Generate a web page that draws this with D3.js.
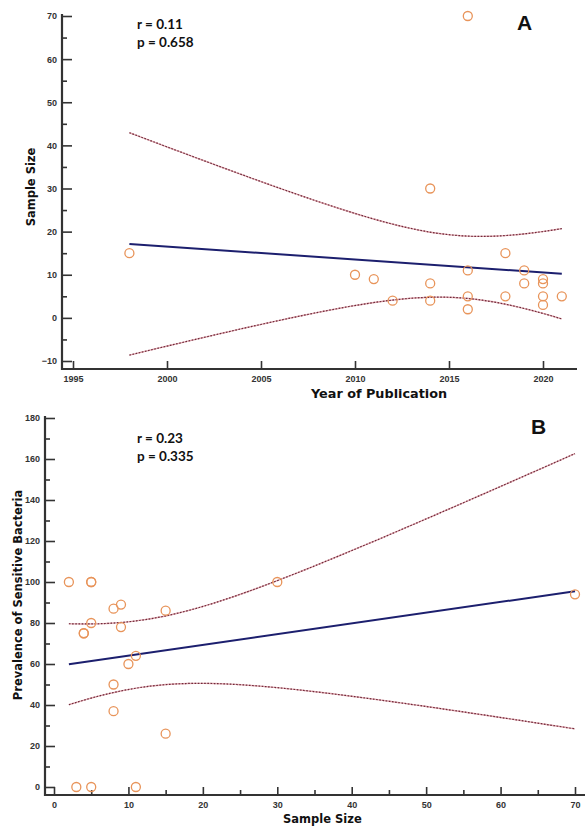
<!DOCTYPE html>
<html>
<head>
<meta charset="UTF-8">
<style>
    body { margin: 0; background: #fff; }
    .tick text { font: bold 9px "Liberation Sans", Arial, sans-serif; fill: #333; }
    .tick line { stroke: #333; stroke-width: 1.6; }
    .ax-line { stroke: #333; stroke-width: 2.2; }
    .ax-title { font-family: "DejaVu Sans", Verdana, sans-serif; font-weight: bold; fill: #111; }
    .stat { font: bold 13.5px Lato, "Open Sans", sans-serif; fill: #111; }
    .panel { font: bold 21px "Liberation Sans", Arial, sans-serif; fill: #111; }
</style>
<title>Regression plots</title>
</head>
<body>
<svg id="chart" width="585" height="831"></svg>

<script src="https://cdn.jsdelivr.net/npm/d3@7"></script>
<script>
// panel A: year of publication vs sample size
const yearA = [1998, 2010, 2011, 2012, 2014, 2014, 2014, 2016, 2016, 2016, 2016, 2018, 2018, 2019, 2019, 2020, 2020, 2020, 2020, 2021];
const sizeA = [15, 10, 9, 4, 30, 8, 4, 70, 11, 5, 2, 15, 5, 11, 8, 9, 8, 5, 3, 5];

// panel B: sample size vs prevalence of sensitive bacteria
const sizeB = [2, 3, 4, 4, 5, 5, 5, 5, 8, 8, 8, 9, 9, 10, 11, 11, 15, 15, 30, 70];
const prevB = [100, 0, 75, 75, 100, 100, 80, 0, 87, 50, 37, 89, 78, 60, 64, 0, 86, 26, 100, 94];

const yearTicks = [1995, 2000, 2005, 2010, 2015, 2020];
const sizeTicksA = [-10, 0, 10, 20, 30, 40, 50, 60, 70];
const sizeMinorA = [-5, 5, 15, 25, 35, 45, 55, 65];
const sizeTicksB = [0, 10, 20, 30, 40, 50, 60, 70];
const sizeMinorB = [5, 15, 25, 35, 45, 55, 65];
const prevTicks = [0, 20, 40, 60, 80, 100, 120, 140, 160, 180];
const prevMinor = [10, 30, 50, 70, 90, 110, 130, 150, 170];

const statsA = ["r = 0.11", "p = 0.658"];
const statsB = ["r = 0.23", "p = 0.335"];

const T_CRIT = 2.101; // t(0.975, df = 18)

const svg = d3.select("#chart");

function regression(xs, ys) {
    const n = xs.length;
    const mx = d3.mean(xs), my = d3.mean(ys);
    let sxx = 0, sxy = 0, syy = 0;
    for (let i = 0; i < n; i++) {
        sxx += (xs[i] - mx) ** 2;
        sxy += (xs[i] - mx) * (ys[i] - my);
        syy += (ys[i] - my) ** 2;
    }
    const b = sxy / sxx, a = my - b * mx;
    const s = Math.sqrt((syy - sxy * sxy / sxx) / (n - 2));
    const band = x => T_CRIT * s * Math.sqrt(1 / n + (x - mx) ** 2 / sxx);
    return { fit: x => a + b * x, band };
}

function drawPanel(cfg) {
    const g = svg.append("g");
    const x = cfg.x, y = cfg.y;
    const yr = y.range();

    // axes with inward ticks
    g.append("g").attr("transform", `translate(${cfg.axX},0)`)
        .call(d3.axisLeft(y).tickValues(cfg.yTicks).tickSize(-10).tickPadding(5));
    g.append("g").attr("transform", `translate(${cfg.axX},0)`)
        .call(d3.axisLeft(y).tickValues(cfg.yMinor).tickSize(-5).tickFormat(""));
    g.append("g").attr("transform", `translate(0,${cfg.axY})`)
        .call(d3.axisBottom(x).tickValues(cfg.xTicks).tickSize(-8).tickPadding(7).tickFormat(d3.format("d")));
    if (cfg.xMinor) {
        g.append("g").attr("transform", `translate(0,${cfg.axY})`)
            .call(d3.axisBottom(x).tickValues(cfg.xMinor).tickSize(-5).tickFormat(""));
    }
    g.selectAll(".domain").remove();

    g.append("line").attr("class", "ax-line")
        .attr("x1", cfg.axX).attr("x2", cfg.axX)
        .attr("y1", yr[1] - 2).attr("y2", cfg.axY + 1);
    g.append("line").attr("class", "ax-line")
        .attr("x1", cfg.axX - 1).attr("x2", cfg.axEnd)
        .attr("y1", cfg.axY).attr("y2", cfg.axY);

    // regression line and 95% confidence band
    const reg = regression(cfg.xs, cfg.ys);
    const [lo, hi] = d3.extent(cfg.xs);
    const grid = d3.range(0, 61).map(i => lo + (hi - lo) * i / 60);
    const line = d3.line().x(d => x(d[0])).y(d => y(d[1])).curve(d3.curveMonotoneX);

    [1, -1].forEach(sign => {
        const pts = grid.map(v => [v, reg.fit(v) + sign * reg.band(v)]);
        g.append("path").attr("d", line(pts))
            .attr("fill", "none").attr("stroke", "#e0a8b0").attr("stroke-width", 1.4);
        g.append("path").attr("d", line(pts))
            .attr("fill", "none").attr("stroke", "#6e2a3a").attr("stroke-width", 1.2)
            .attr("stroke-dasharray", "1.6,1.6");
    });

    g.append("line")
        .attr("x1", x(lo)).attr("y1", y(reg.fit(lo)))
        .attr("x2", x(hi)).attr("y2", y(reg.fit(hi)))
        .attr("stroke", "#1c1f6e").attr("stroke-width", 2);

    g.selectAll("circle.pt").data(cfg.xs.map((v, i) => [v, cfg.ys[i]]))
        .join("circle").attr("class", "pt")
        .attr("cx", d => x(d[0])).attr("cy", d => y(d[1])).attr("r", 4.5)
        .attr("fill", "none").attr("stroke", "#e8945a").attr("stroke-width", 1.3);

    // titles and annotations
    g.append("text").attr("class", "ax-title").style("font-size", cfg.xTitleSize + "px")
        .attr("x", cfg.xTitle[0]).attr("y", cfg.xTitle[1]).text(cfg.xLabel);
    g.append("text").attr("class", "ax-title").attr("text-anchor", "middle")
        .style("font-size", "11.5px")
        .attr("transform", `translate(${cfg.yTitle[0]},${cfg.yTitle[1]}) rotate(-90)`)
        .text(cfg.yLabel);
    cfg.stats.forEach((s, i) => {
        g.append("text").attr("class", "stat")
            .attr("x", 137).attr("y", cfg.statY + i * 18).text(s);
    });
    g.append("text").attr("class", "panel")
        .attr("x", cfg.letterPos[0]).attr("y", cfg.letterPos[1]).text(cfg.letter);
}

drawPanel({
    xs: yearA, ys: sizeA,
    x: d3.scaleLinear().domain([1995, 2020]).range([73, 543]),
    y: d3.scaleLinear().domain([-10, 70]).range([361, 16]),
    axX: 62, axY: 369, axEnd: 577,
    xTicks: yearTicks, yTicks: sizeTicksA, yMinor: sizeMinorA,
    xLabel: "Year of Publication", yLabel: "Sample Size",
    xTitle: [311, 398], xTitleSize: 12.8, yTitle: [35, 187],
    stats: statsA, statY: 29,
    letter: "A", letterPos: [517, 30]
});

drawPanel({
    xs: sizeB, ys: prevB,
    x: d3.scaleLinear().domain([0, 70]).range([54, 575]),
    y: d3.scaleLinear().domain([0, 180]).range([787, 418]),
    axX: 45, axY: 795, axEnd: 585,
    xTicks: sizeTicksB, xMinor: sizeMinorB, yTicks: prevTicks, yMinor: prevMinor,
    xLabel: "Sample Size", yLabel: "Prevalence of Sensitive Bacteria",
    xTitle: [283, 823], xTitleSize: 11.5, yTitle: [22, 595],
    stats: statsB, statY: 443,
    letter: "B", letterPos: [531, 434]
});
</script>
</body>
</html>
